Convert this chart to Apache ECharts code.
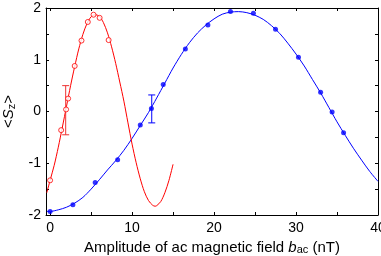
<!DOCTYPE html>
<html><head><meta charset="utf-8">
<script src="https://cdn.jsdelivr.net/npm/echarts@6/dist/echarts.min.js"></script>
<style>html,body{margin:0;padding:0;background:#fff}#c{width:381px;height:256px}</style>
</head><body><div id="c"></div>
<script>
// Red data (open circles)
const redPointsX = [0, 1.35, 1.95, 2.2, 3.0, 3.83, 4.6, 5.3, 6.04, 7.14];
const redPointsY = [-1.33, -0.36, 0.04, 0.25, 0.88, 1.37, 1.73, 1.87, 1.81, 1.38];
// Red fitted curve
const redCurveX = [-0.4, 0, 0.5, 1, 1.5, 2, 2.5, 3, 3.5, 4, 4.5, 5, 5.5, 6, 6.5, 7, 7.5, 8, 8.5, 9, 9.5, 10, 10.5, 11, 11.5, 12, 12.5, 12.8, 13, 13.5, 14, 14.5, 15];
const redCurveY = [-1.57, -1.33, -1.04, -0.69, -0.30, 0.10, 0.50, 0.87, 1.21, 1.49, 1.70, 1.83, 1.87, 1.84, 1.72, 1.52, 1.25, 0.93, 0.57, 0.20, -0.22, -0.63, -0.99, -1.30, -1.55, -1.72, -1.81, -1.83, -1.82, -1.74, -1.57, -1.33, -1.02];
// Blue data (filled circles)
const bluePointsX = [0, 2.78, 5.5, 8.24, 11.0, 12.36, 13.8, 16.5, 19.25, 22.0, 24.8, 27.5, 30.3, 33.0, 34.4, 35.8];
const bluePointsY = [-1.93, -1.80, -1.37, -0.93, -0.26, 0.06, 0.52, 1.21, 1.67, 1.93, 1.90, 1.59, 1.05, 0.37, -0.01, -0.41];
// Blue fitted curve
const blueCurveX = [-0.4, 0, 1, 2, 3, 4, 5, 6, 7, 8, 9, 10, 11, 12, 13, 14, 15, 16, 17, 18, 19, 20, 21, 22, 23, 24, 25, 26, 27, 28, 29, 30, 31, 32, 33, 34, 35, 36, 37, 38, 39, 40];
const blueCurveY = [-1.93, -1.93, -1.90, -1.85, -1.77, -1.66, -1.50, -1.32, -1.13, -0.95, -0.75, -0.52, -0.27, -0.02, 0.26, 0.55, 0.84, 1.10, 1.33, 1.52, 1.67, 1.79, 1.88, 1.92, 1.93, 1.91, 1.86, 1.78, 1.66, 1.51, 1.32, 1.11, 0.88, 0.62, 0.36, 0.08, -0.20, -0.46, -0.71, -0.94, -1.16, -1.35];
// Error bars: [x, low, high]
const redErr = [[1.9, -0.45, 0.50]];
const blueErr = [[12.4, -0.22, 0.32]];
// Ticks
const xTickValues = [0, 5, 10, 15, 20, 25, 30, 35, 40];
const xLabelValues = [0, 10, 20, 30, 40];
const yLabelValues = [-2, -1, 0, 1, 2];

const zip = (a, b) => a.map((v, i) => [v, b[i]]);
const RED = '#ff0000', BLUE = '#0000ff';
const FONT = '"Liberation Sans", Arial, sans-serif';

function errRender(color) {
  return function (params, api) {
    const x = api.value(0), lo = api.value(1), hi = api.value(2);
    const pLo = api.coord([x, lo]), pHi = api.coord([x, hi]);
    const w = 3.5;
    const st = { stroke: color, lineWidth: 1 };
    return { type: 'group', children: [
      { type: 'line', shape: { x1: pLo[0], y1: pLo[1], x2: pHi[0], y2: pHi[1] }, style: st },
      { type: 'line', shape: { x1: pLo[0] - w, y1: pLo[1], x2: pLo[0] + w, y2: pLo[1] }, style: st },
      { type: 'line', shape: { x1: pHi[0] - w, y1: pHi[1], x2: pHi[0] + w, y2: pHi[1] }, style: st }
    ]};
  };
}

const axisLine = { show: true, onZero: false, lineStyle: { color: '#000', width: 1 } };
const tick = { show: true, inside: true, length: 3, lineStyle: { color: '#000' } };

const chart = echarts.init(document.getElementById('c'), null, { renderer: 'canvas' });
chart.setOption({
  animation: false,
  backgroundColor: '#fff',
  grid: { left: 46, right: 3, top: 8, bottom: 41, containLabel: false, outerBoundsMode: 'none' },
  xAxis: [{
    type: 'value', min: -0.5, max: 40, position: 'bottom',
    axisLine, splitLine: { show: false },
    axisTick: Object.assign({}, tick, { customValues: xTickValues }),
    axisLabel: { customValues: xLabelValues, color: '#000', fontSize: 14, fontFamily: FONT, margin: 6, hideOverlap: false },
    name: 'Amplitude of ac magnetic field {i|b}{sub|ac} (nT)',
    nameLocation: 'middle', nameGap: 20,
    nameTextStyle: { color: '#000', fontSize: 15, fontFamily: FONT,
      rich: { i: { fontStyle: 'italic', fontSize: 15, fontFamily: FONT, color: '#000' },
              sub: { fontSize: 11, fontFamily: FONT, color: '#000', verticalAlign: 'bottom', padding: [6, 0, 0, 0] } } }
  }, {
    type: 'value', min: -0.5, max: 40, position: 'top',
    axisLine, splitLine: { show: false },
    axisTick: Object.assign({}, tick, { customValues: xTickValues }),
    axisLabel: { show: false }
  }],
  yAxis: [{
    type: 'value', min: -2, max: 2, interval: 0.5, position: 'left',
    axisLine, splitLine: { show: false }, axisTick: tick,
    axisLabel: { customValues: yLabelValues, color: '#000', fontSize: 14, fontFamily: FONT, margin: 5 },
    name: '<{i|S}{sub|z}>', nameLocation: 'middle', nameRotate: 90, nameGap: 25,
    nameTextStyle: { color: '#000', fontSize: 15, fontFamily: FONT,
      rich: { i: { fontStyle: 'italic', fontSize: 15, fontFamily: FONT, color: '#000' },
              sub: { fontSize: 11, fontFamily: FONT, color: '#000', padding: [6, 0, 0, 0] } } }
  }, {
    type: 'value', min: -2, max: 2, interval: 0.5, position: 'right',
    axisLine, splitLine: { show: false }, axisTick: tick, axisLabel: { show: false }
  }],
  series: [
    { type: 'line', data: zip(blueCurveX, blueCurveY), showSymbol: false, smooth: 0.3,
      lineStyle: { color: BLUE, width: 1 }, itemStyle: { color: BLUE }, z: 2 },
    { type: 'scatter', data: zip(bluePointsX, bluePointsY), symbol: 'circle', symbolSize: 5,
      itemStyle: { color: BLUE }, z: 3 },
    { type: 'custom', data: blueErr, renderItem: errRender(BLUE), z: 3 },
    { type: 'line', data: zip(redCurveX, redCurveY), showSymbol: false, smooth: 0.3,
      lineStyle: { color: RED, width: 1 }, itemStyle: { color: RED }, z: 4 },
    { type: 'scatter', data: zip(redPointsX, redPointsY), symbol: 'circle', symbolSize: 5,
      itemStyle: { color: '#fff', borderColor: RED, borderWidth: 1 }, z: 5 },
    { type: 'custom', data: redErr, renderItem: errRender('#ee3333'), z: 5 }
  ]
});
</script></body></html>
